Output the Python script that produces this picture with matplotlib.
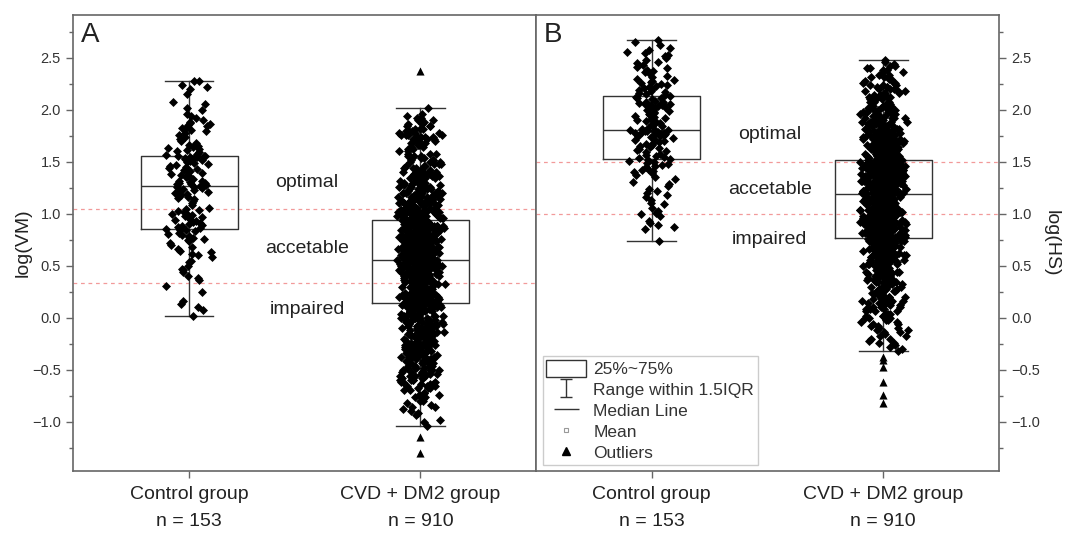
"""两组箱线图 + 抖动散点: log(VM) 与 log(HS)"""

import numpy as np
import matplotlib.pyplot as plt
from matplotlib.lines import Line2D
from matplotlib.patches import Rectangle
from matplotlib.path import Path

plt.rcParams['font.family'] = ['Liberation Sans', 'DejaVu Sans']

groups = ['Control group\nn = 153', 'CVD + DM2 group\nn = 910']
zones = ['optimal', 'accetable', 'impaired']

# ---- A: log(VM) ----
# 对照组的点 (单位 0.01)
vm_control = np.array([
    2, 7, 10, 13, 16, 25, 31, 36, 38, 40, 44, 46, 47, 50, 54, 55, 58, 60, 61, 63,
    64, 66, 68, 70, 72, 74, 75, 76, 77, 78, 79, 80, 81, 82, 83, 84, 84, 85,
    86, 87, 88, 89, 90, 91, 92, 93, 94, 95, 96, 97, 98, 99, 100, 101, 102, 103,
    104, 105, 106, 108, 110, 112, 114, 115, 116, 118, 119, 120, 121, 122, 123,
    124, 125, 126, 126, 127,
    128, 128, 129, 129, 130, 130, 131, 132, 132, 133, 134, 135, 136, 137, 138,
    139, 140, 141, 142, 143, 144, 145, 146, 147, 148, 149, 150, 151, 152, 153,
    153, 154, 154, 155, 155, 156, 156, 156,
    157, 158, 159, 160, 161, 162, 163, 164, 165, 166, 168, 170, 172, 174, 176,
    178, 180, 181, 182, 183, 184, 185, 186, 187, 188, 190, 192, 194, 196, 200,
    202, 206, 208, 215, 220, 222, 224, 228, 228]) / 100
# 病例组: 每 0.02 一格的点数 (-1.04 ... 2.02)
vm_cvd_levels = np.linspace(-1.04, 2.02, 154)
vm_cvd_counts = [
    1, 0, 1, 1, 0, 1, 1, 1, 1, 2, 1, 1, 2, 1, 2, 2, 2,
    2, 3, 3, 3, 3, 4, 3, 4, 4, 4, 4, 4, 5, 4, 5, 5, 5, 5, 5, 5,
    5, 5, 5, 5, 5, 5, 6, 6, 6, 6, 6, 6, 6, 6, 6, 6, 6, 6, 6, 7, 7, 7,
    11, 11, 11, 11, 11, 11, 11, 11, 11, 11, 11, 11, 11, 11, 11, 11, 11, 11, 11, 11, 11,
    12, 12, 12, 12, 12, 12, 12, 12, 12, 12, 12, 12, 12, 12, 12, 12, 12, 12, 11,
    9, 9, 8, 8, 8, 7, 7, 7, 7, 6, 6, 6, 6, 6, 5, 5, 5, 5,
    4, 4, 4, 4, 4, 4, 3, 3, 3, 3, 3, 3, 3, 3, 3, 2, 2, 2, 2, 2,
    4, 4, 4, 4, 3, 3, 3, 3, 2, 2, 2, 2, 1, 1, 0, 0, 1]
vm_outliers = [[], [2.37, -1.15, -1.30]]
vm_lo = [0.02, -1.04]
vm_q1 = [0.85, 0.14]
vm_med = [1.27, 0.56]
vm_q3 = [1.56, 0.94]
vm_hi = [2.28, 2.02]
vm_cut = [1.05, 0.33]
vm_zone_y = [1.30, 0.67, 0.08]

# ---- B: log(HS) ----
hs_control = np.array([
    74, 85, 87, 89, 91, 93, 98, 100, 101, 103, 106, 109, 110, 113, 116, 118, 120,
    122, 124, 127, 129, 131, 133, 135, 137, 139, 140, 141, 142, 143, 145, 146,
    147, 148, 149, 150, 151, 152,
    153, 154, 155, 156, 157, 158, 159, 160, 161, 162, 163, 164, 165, 166, 167,
    168, 169, 170, 171, 172, 173, 174, 175, 175, 176, 176, 177, 177, 178, 178,
    179, 179, 180, 180, 180, 181, 181, 181,
    182, 183, 184, 185, 186, 187, 188, 189, 190, 191, 192, 193, 194, 195, 196,
    197, 198, 199, 200, 201, 202, 203, 204, 204, 205, 205, 206, 206, 207, 207,
    208, 208, 209, 210, 211, 211, 212, 213,
    214, 215, 216, 217, 218, 219, 220, 221, 222, 223, 224, 225, 226, 227, 228,
    229, 230, 232, 233, 235, 236, 237, 238, 240, 241, 243, 245, 246, 248, 250,
    252, 253, 255, 256, 258, 260, 262, 265, 267]) / 100
hs_cvd_levels = np.linspace(-0.32, 2.48, 141)
hs_cvd_counts = [
    1, 1, 1, 1, 2, 1, 2, 2, 1, 2, 2, 2, 2, 2, 2, 2,
    3, 3, 3, 3, 3, 3, 3, 3, 4, 4, 4, 4, 4, 4, 4, 4, 4, 5, 5, 5, 5,
    5, 5, 6, 6, 6, 6, 6, 7, 7, 7, 7, 7, 7, 7, 7, 8, 8, 8,
    11, 11, 11, 11, 11, 11, 11, 11, 11, 11, 11, 11, 11, 11, 11, 11, 10, 10, 10, 10, 10,
    14, 14, 14, 14, 14, 14, 14, 14, 14, 14, 14, 14, 14, 14, 15, 15,
    11, 11, 10, 10, 9, 9, 9, 8, 8, 7, 7, 6, 6, 6, 6, 6, 5, 5, 5,
    4, 4, 4, 4, 4, 4, 4, 3, 3, 3, 3, 3, 3, 3, 3,
    3, 3, 3, 2, 2, 2, 2, 2, 2, 2, 2, 2, 1, 1, 1]
hs_outliers = [[], [-0.38, -0.41, -0.47, -0.62, -0.74, -0.82]]
hs_lo = [0.74, -0.32]
hs_q1 = [1.53, 0.77]
hs_med = [1.81, 1.19]
hs_q3 = [2.13, 1.52]
hs_hi = [2.67, 2.48]
hs_cut = [1.5, 1.0]
hs_zone_y = [1.76, 1.23, 0.75]

vm_cvd = np.repeat(vm_cvd_levels, vm_cvd_counts)
hs_cvd = np.repeat(hs_cvd_levels, hs_cvd_counts)

EDGE = '#333333'
SPINE = '#666666'

# 水平抖动 (只影响点的横向位置)
rng = np.random.default_rng(7)


def minus_fmt(v, pos):
    return f'{v:.1f}'.replace('-', '\u2212')


def draw_panel(ax, points, outliers, lo, q1, med, q3, hi, cuts, zone_y, tag):
    stats = [dict(whislo=lo[i], q1=q1[i], med=med[i], q3=q3[i], whishi=hi[i],
                  fliers=[]) for i in range(2)]
    line = dict(color=EDGE, linewidth=1.0)
    ax.bxp(stats, positions=[1, 2], widths=0.42, capwidths=0.21,
           showfliers=False, boxprops=line, whiskerprops=line,
           capprops=line, medianprops=line, zorder=2)
    for i, vals in enumerate(points):
        dx = rng.triangular(-0.11, 0, 0.11, len(vals))
        ax.scatter(i + 1 + dx, vals, marker='D', s=21,
                   c='black', linewidths=0, zorder=3)
        if outliers[i]:
            ax.scatter([i + 1] * len(outliers[i]), outliers[i], marker='^',
                       s=34, c='black', linewidths=0, zorder=4)
    for c in cuts:
        ax.axhline(c, color='#f29a9a', lw=0.9, ls=(0, (3, 3)), zorder=1)
    for name, y in zip(zones, zone_y):
        ax.text(1.51, y, name, fontsize=14, color='#222222',
                ha='center', va='center')
    ax.text(0.016, 0.985, tag, transform=ax.transAxes, fontsize=20,
            color='#222222', ha='left', va='top')

    ax.set_xlim(0.5, 2.5)
    ax.set_ylim(-1.475, 2.91)
    ax.set_xticks([1, 2])
    ax.set_xticklabels(groups, fontsize=14, color='#222222', linespacing=1.75)
    ax.set_yticks(np.arange(-1.0, 2.51, 0.5))
    ax.set_yticks(np.arange(-1.25, 2.8, 0.5), minor=True)
    ax.yaxis.set_major_formatter(plt.FuncFormatter(minus_fmt))
    ax.tick_params(axis='y', which='major', length=5, width=1, color=SPINE,
                   labelsize=10.5, labelcolor='#333333', pad=4)
    ax.tick_params(axis='y', which='minor', length=3, width=1, color=SPINE)
    ax.tick_params(axis='x', length=5, width=1, color=SPINE, pad=6)
    for s in ax.spines.values():
        s.set_color(SPINE)
        s.set_linewidth(1.2)


fig = plt.figure(figsize=(10.65, 5.33), dpi=100)
ax1 = fig.add_axes([0.069, 0.1163, 0.4343, 0.855])
ax2 = fig.add_axes([0.5033, 0.1163, 0.4347, 0.855])

draw_panel(ax1, [vm_control, vm_cvd], vm_outliers, vm_lo, vm_q1, vm_med,
           vm_q3, vm_hi, vm_cut, vm_zone_y, 'A')
draw_panel(ax2, [hs_control, hs_cvd], hs_outliers, hs_lo, hs_q1, hs_med,
           hs_q3, hs_hi, hs_cut, hs_zone_y, 'B')

ax1.set_ylabel('log(VM)', fontsize=14, color='#222222', labelpad=0)
ax2.yaxis.tick_right()
ax2.yaxis.set_label_position('right')
ax2.set_ylabel('log(HS)', fontsize=14, color='#222222', rotation=270,
               labelpad=14)

# 图例 (Origin 风格)
i_beam = Path([(-0.7, 1), (0.7, 1), (0, 1), (0, -1), (-0.7, -1), (0.7, -1)],
              [Path.MOVETO, Path.LINETO, Path.MOVETO, Path.LINETO,
               Path.MOVETO, Path.LINETO])
handles = [
    Rectangle((0, 0), 1, 1, facecolor='white', edgecolor=EDGE, lw=1),
    Line2D([], [], ls='none', marker=i_beam, markersize=13, mfc='none',
           mec=EDGE, mew=1),
    Line2D([], [], ls='none', marker='_', markersize=18, mec=EDGE, mew=1),
    Line2D([], [], ls='none', marker='s', markersize=3.5, mfc='white',
           mec='#999999', mew=0.8),
    Line2D([], [], ls='none', marker='^', markersize=6, mfc='black',
           mec='black'),
]
labels = ['25%~75%', 'Range within 1.5IQR', 'Median Line', 'Mean', 'Outliers']
leg = ax2.legend(handles, labels, loc='lower left',
                 bbox_to_anchor=(0.015, 0.014), borderaxespad=0,
                 fontsize=12.5, handlelength=2.3, handleheight=1.15,
                 handletextpad=0.4, labelspacing=0.2, borderpad=0.2,
                 fancybox=False, framealpha=1, edgecolor='#cccccc',
                 labelcolor='#333333')
leg.get_frame().set_linewidth(1.0)

plt.savefig('out.png', dpi=100)
